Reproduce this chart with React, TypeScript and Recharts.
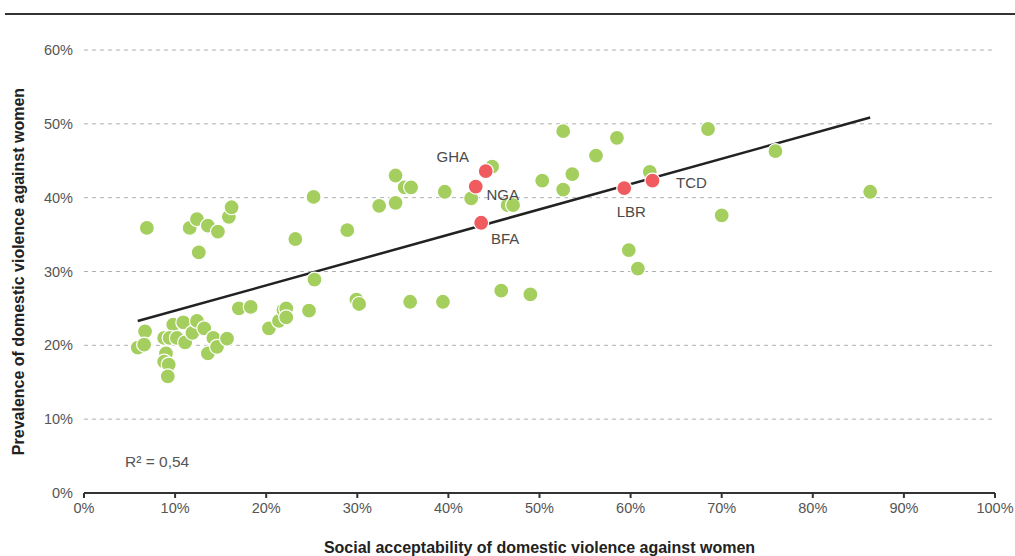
import React from 'react';
import { ScatterChart, Scatter, XAxis, YAxis, CartesianGrid, ReferenceLine, Label } from 'recharts';

// Social acceptability (x, %) vs prevalence (y, %) by country
const otherX = [
  5.9, 6.7, 6.6, 6.9, 8.8, 9.0, 8.8, 9.3, 9.2, 9.8, 9.4, 10.2, 10.9, 11.1, 11.9, 12.4, 11.6,
  12.4, 12.6, 13.2, 13.6, 13.6, 14.2, 14.6, 14.7, 15.7, 15.9, 16.2, 17.0, 18.3, 20.3, 21.4,
  21.9, 22.2, 22.2, 23.2, 24.7, 25.2, 25.3, 28.9, 29.9, 30.2, 32.4, 34.2, 34.2, 35.2, 35.9,
  35.8, 39.4, 39.6, 42.5, 44.8, 45.8, 46.5, 47.1, 49.0, 50.3, 52.6, 52.6, 53.6, 56.2, 58.5,
  59.8, 60.8, 62.1, 68.5, 70.0, 75.9, 86.3,
];
const otherY = [
  19.7, 21.9, 20.1, 35.9, 21.0, 18.9, 17.8, 17.4, 15.8, 22.8, 21.0, 21.0, 23.1, 20.4, 21.7, 23.3, 35.9,
  37.1, 32.6, 22.3, 18.9, 36.2, 21.0, 19.8, 35.4, 20.9, 37.4, 38.7, 25.0, 25.2, 22.3, 23.3,
  24.8, 25.0, 23.8, 34.4, 24.7, 40.1, 28.9, 35.6, 26.2, 25.6, 38.9, 43.0, 39.3, 41.4, 41.4,
  25.9, 25.9, 40.8, 39.9, 44.2, 27.4, 39.0, 39.0, 26.9, 42.3, 49.0, 41.1, 43.2, 45.7, 48.1,
  32.9, 30.4, 43.5, 49.3, 37.6, 46.3, 40.8,
];

const highlightCodes = ['GHA', 'NGA', 'BFA', 'LBR', 'TCD'];
const highlightX = [44.1, 43.0, 43.6, 59.3, 62.4];
const highlightY = [43.6, 41.5, 36.6, 41.3, 42.3];

const xTicks = [0, 10, 20, 30, 40, 50, 60, 70, 80, 90, 100];
const yTicks = [0, 10, 20, 30, 40, 50, 60];
const rSquaredText = 'R² = 0,54';

const others = otherX.map((x, i) => ({ x, y: otherY[i] }));
const highlights = highlightCodes.map((code, i) => ({ code, x: highlightX[i], y: highlightY[i] }));

// ordinary least squares over every country
const allPoints = [...others, ...highlights];
const meanX = allPoints.reduce((s, p) => s + p.x, 0) / allPoints.length;
const meanY = allPoints.reduce((s, p) => s + p.y, 0) / allPoints.length;
const slope =
  allPoints.reduce((s, p) => s + (p.x - meanX) * (p.y - meanY), 0) /
  allPoints.reduce((s, p) => s + (p.x - meanX) ** 2, 0);
const intercept = meanY - slope * meanX;
const fitMinX = Math.min(...allPoints.map((p) => p.x));
const fitMaxX = Math.max(...allPoints.map((p) => p.x));

const GREEN = '#a4cf5f';
const RED = '#ef5b5e';
const FONT = '"Liberation Sans", Arial, Helvetica, sans-serif';

// where each country code sits relative to its dot
const labelOffset: Record<string, [number, number]> = {
  GHA: [-33, -15],
  NGA: [27, 8],
  BFA: [24, 16],
  LBR: [7, 23],
  TCD: [39, 2],
};

const GreenDot = (props: any) => (
  <circle cx={props.cx} cy={props.cy} r={7.5} fill={GREEN} stroke="#fff" strokeWidth={1.2} />
);

const RedDot = (props: any) => {
  const [dx, dy] = labelOffset[props.payload.code] || [0, 0];
  return (
    <g>
      <circle cx={props.cx} cy={props.cy} r={7.5} fill={RED} stroke="#fff" strokeWidth={1.2} />
      <text
        x={props.cx + dx}
        y={props.cy + dy}
        textAnchor="middle"
        dominantBaseline="central"
        fontSize={15}
        fill="#4a4a4a"
        fontFamily={FONT}
      >
        {props.payload.code}
      </text>
    </g>
  );
};

const pct = (v: number) => `${v}%`;

export default function App() {
  return (
    <div style={{ position: 'relative', width: 1015, height: 556, background: '#fff', fontFamily: FONT }}>
      <style>{`body { margin: 0; }`}</style>
      <div style={{ position: 'absolute', left: 5, top: 13, width: 1010, height: 2, background: '#333' }} />
      <ScatterChart width={1015} height={556} margin={{ top: 50, right: 20, bottom: 0, left: 0 }}>
        <CartesianGrid vertical={false} stroke="#b0b0b0" strokeDasharray="4 4" />
        <XAxis
          type="number"
          dataKey="x"
          domain={[0, 100]}
          ticks={xTicks}
          tickFormatter={pct}
          height={63}
          stroke="#333"
          strokeWidth={2}
          tickSize={5}
          tickMargin={5}
          tick={{ fill: '#555', fontSize: 14.5, fontFamily: FONT }}
          allowDataOverflow
        >
          <Label
            value="Social acceptability of domestic violence against women"
            position="insideBottom"
            offset={3}
            style={{ fontWeight: 'bold', fontSize: 16, fill: '#222', fontFamily: FONT }}
          />
        </XAxis>
        <YAxis
          type="number"
          dataKey="y"
          domain={[0, 60]}
          ticks={yTicks}
          tickFormatter={pct}
          width={84}
          axisLine={false}
          tickLine={false}
          tickSize={6}
          tickMargin={5}
          tick={{ fill: '#555', fontSize: 14.5, fontFamily: FONT }}
        >
          <Label
            value="Prevalence of domestic violence against women"
            angle={-90}
            position="insideLeft"
            offset={18}
            style={{ textAnchor: 'middle', fontWeight: 'bold', fontSize: 16, fill: '#222', fontFamily: FONT }}
          />
        </YAxis>
        <Scatter data={others} shape={GreenDot} isAnimationActive={false} />
        <ReferenceLine
          segment={[
            { x: fitMinX, y: intercept + slope * fitMinX },
            { x: fitMaxX, y: intercept + slope * fitMaxX },
          ]}
          stroke="#222"
          strokeWidth={2.5}
        />
        <Scatter data={highlights} shape={RedDot} isAnimationActive={false} />
      </ScatterChart>
      <div
        style={{
          position: 'absolute',
          left: 125,
          top: 452,
          fontSize: 15.5,
          color: '#555',
          lineHeight: '20px',
        }}
      >
        {rSquaredText}
      </div>
    </div>
  );
}
